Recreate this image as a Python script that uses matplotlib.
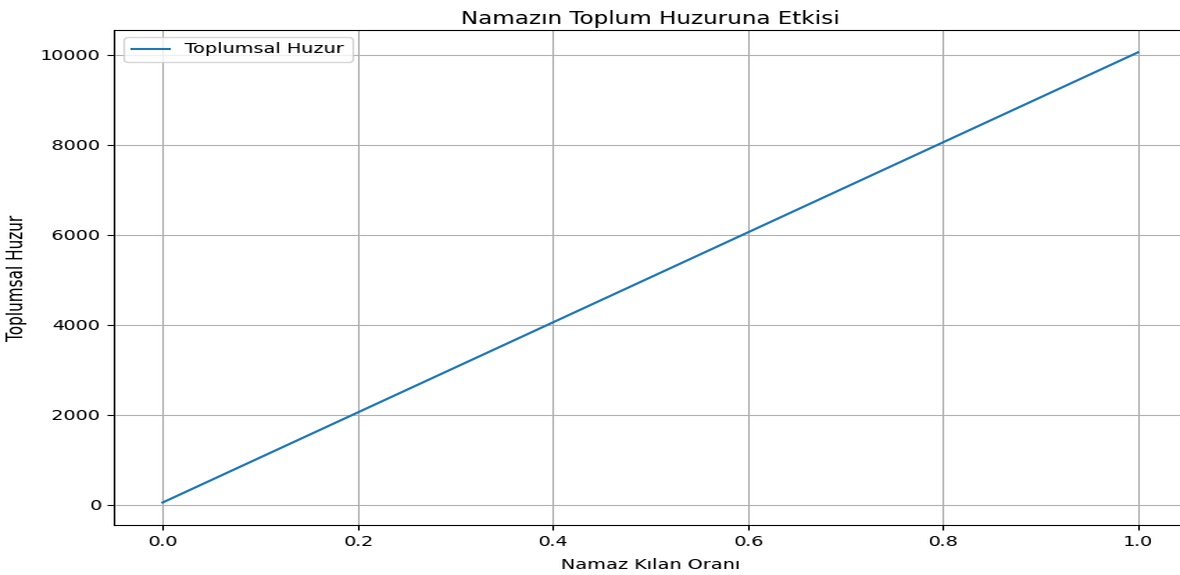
import matplotlib
matplotlib.use("Agg")
import matplotlib.pyplot as plt
from PIL import Image
from io import BytesIO

# değerler
namaz_orani = [0.0, 0.2, 0.4, 0.6, 0.8, 1.0]
toplumsal_huzur = [50, 2050, 4050, 6050, 8050, 10050]

fig = plt.figure(figsize=(8.5, 5.75), dpi=100)
# sağ kenar resmin dışına taşıyor (orijinalde kırpılmış)
ax = fig.add_axes([0.0966, 0.087, 0.909, 0.861])

ax.plot(namaz_orani, toplumsal_huzur, color="tab:blue", label="Toplumsal Huzur")
ax.set_title("Namazın Toplum Huzuruna Etkisi", fontsize=12, pad=4)
ax.set_xlabel("Namaz Kılan Oranı", fontsize=10, labelpad=6.5)
ax.set_ylabel("Toplumsal Huzur", fontsize=11, labelpad=6)
ax.tick_params(labelsize=10)
ax.grid(True)
ax.legend(loc="upper left", fontsize=10)

buf = BytesIO()
fig.savefig(buf, dpi=100)
img = Image.open(buf)
img = img.resize((1180, 575), Image.LANCZOS)
img.save("out.png")
